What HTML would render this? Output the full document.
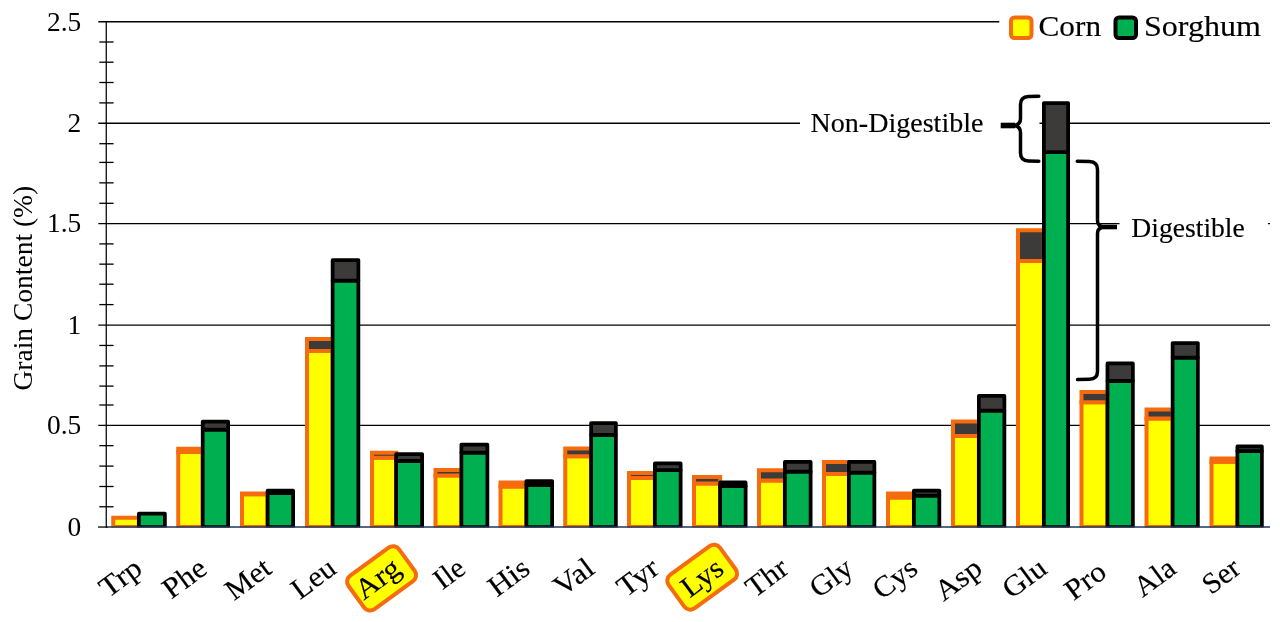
<!DOCTYPE html>
<html lang="en"><head><meta charset="utf-8"><title>Grain amino acid content: corn vs sorghum</title>
<style>html,body{margin:0;padding:0;background:#fff;}body{width:1280px;height:622px;overflow:hidden;}svg{display:block;}</style>
</head><body>
<svg width="1280" height="622" viewBox="0 0 1280 622">
<rect width="1280" height="622" fill="#fff"/>
<g stroke="#000" stroke-width="1.3" fill="none">
<line x1="98.3" y1="425.4" x2="1270" y2="425.4"/>
<line x1="98.3" y1="325.2" x2="1270" y2="325.2"/>
<line x1="98.3" y1="223.6" x2="1270" y2="223.6"/>
<line x1="98.3" y1="123.25" x2="1270" y2="123.25"/>
<line x1="98.3" y1="21.75" x2="1270" y2="21.75"/>
</g>
<rect x="999.3" y="8" width="281" height="40" fill="#fff"/>
<rect x="800" y="108" width="239.5" height="34" fill="#fff"/>
<rect x="1119.5" y="206" width="148.5" height="36" fill="#fff"/>
<g stroke="#000" stroke-width="1.3" fill="none">
<line x1="106.25" y1="21.1" x2="106.25" y2="527.6" stroke-width="1.25"/>
<line x1="99.3" y1="42.00" x2="113.6" y2="42.00"/>
<line x1="99.3" y1="62.20" x2="113.6" y2="62.20"/>
<line x1="99.3" y1="82.50" x2="113.6" y2="82.50"/>
<line x1="99.3" y1="102.90" x2="113.6" y2="102.90"/>
<line x1="99.3" y1="143.70" x2="113.6" y2="143.70"/>
<line x1="99.3" y1="162.40" x2="113.6" y2="162.40"/>
<line x1="99.3" y1="182.85" x2="113.6" y2="182.85"/>
<line x1="99.3" y1="203.30" x2="113.6" y2="203.30"/>
<line x1="99.3" y1="243.90" x2="113.6" y2="243.90"/>
<line x1="99.3" y1="264.15" x2="113.6" y2="264.15"/>
<line x1="99.3" y1="284.20" x2="113.6" y2="284.20"/>
<line x1="99.3" y1="304.60" x2="113.6" y2="304.60"/>
<line x1="99.3" y1="345.45" x2="113.6" y2="345.45"/>
<line x1="99.3" y1="365.90" x2="113.6" y2="365.90"/>
<line x1="99.3" y1="386.10" x2="113.6" y2="386.10"/>
<line x1="99.3" y1="405.00" x2="113.6" y2="405.00"/>
<line x1="99.3" y1="445.65" x2="113.6" y2="445.65"/>
<line x1="99.3" y1="466.10" x2="113.6" y2="466.10"/>
<line x1="99.3" y1="486.50" x2="113.6" y2="486.50"/>
<line x1="99.3" y1="506.75" x2="113.6" y2="506.75"/>
</g>
<clipPath id="pc"><rect x="100" y="0" width="1180" height="527.6"/></clipPath>
<g clip-path="url(#pc)">
<g stroke="#F56B0D" stroke-width="4.0" stroke-linejoin="miter"><rect x="113.25" y="517.75" width="25.62" height="9.25" fill="#FFFF00"/><rect x="113.25" y="517.75" width="25.62" height="0.00" fill="#3D3B3A"/></g>
<g stroke="#F56B0D" stroke-width="4.0" stroke-linejoin="miter"><rect x="178.25" y="452.00" width="24.47" height="75.00" fill="#FFFF00"/><rect x="178.25" y="448.75" width="24.47" height="3.25" fill="#3D3B3A"/></g>
<g stroke="#F56B0D" stroke-width="4.0" stroke-linejoin="miter"><rect x="242.00" y="494.25" width="25.62" height="32.75" fill="#FFFF00"/><rect x="242.00" y="493.50" width="25.62" height="0.75" fill="#3D3B3A"/></g>
<g stroke="#F56B0D" stroke-width="4.0" stroke-linejoin="miter"><rect x="307.00" y="351.00" width="25.62" height="176.00" fill="#FFFF00"/><rect x="307.00" y="339.00" width="25.62" height="12.00" fill="#3D3B3A"/></g>
<g stroke="#F56B0D" stroke-width="4.0" stroke-linejoin="miter"><rect x="372.00" y="457.75" width="24.12" height="69.25" fill="#FFFF00"/><rect x="372.00" y="452.75" width="24.12" height="5.00" fill="#3D3B3A"/></g>
<g stroke="#F56B0D" stroke-width="4.0" stroke-linejoin="miter"><rect x="435.50" y="475.50" width="25.88" height="51.50" fill="#FFFF00"/><rect x="435.50" y="470.00" width="25.88" height="5.50" fill="#3D3B3A"/></g>
<g stroke="#F56B0D" stroke-width="4.0" stroke-linejoin="miter"><rect x="500.50" y="486.50" width="25.88" height="40.50" fill="#FFFF00"/><rect x="500.50" y="482.50" width="25.88" height="4.00" fill="#3D3B3A"/></g>
<g stroke="#F56B0D" stroke-width="4.0" stroke-linejoin="miter"><rect x="565.25" y="456.25" width="25.88" height="70.75" fill="#FFFF00"/><rect x="565.25" y="448.50" width="25.88" height="7.75" fill="#3D3B3A"/></g>
<g stroke="#F56B0D" stroke-width="4.0" stroke-linejoin="miter"><rect x="629.00" y="478.00" width="25.88" height="49.00" fill="#FFFF00"/><rect x="629.00" y="473.00" width="25.88" height="5.00" fill="#3D3B3A"/></g>
<g stroke="#F56B0D" stroke-width="4.0" stroke-linejoin="miter"><rect x="694.00" y="483.50" width="26.12" height="43.50" fill="#FFFF00"/><rect x="694.00" y="477.00" width="26.12" height="6.50" fill="#3D3B3A"/></g>
<g stroke="#F56B0D" stroke-width="4.0" stroke-linejoin="miter"><rect x="759.00" y="480.50" width="25.88" height="46.50" fill="#FFFF00"/><rect x="759.00" y="470.25" width="25.88" height="10.25" fill="#3D3B3A"/></g>
<g stroke="#F56B0D" stroke-width="4.0" stroke-linejoin="miter"><rect x="824.00" y="474.00" width="24.88" height="53.00" fill="#FFFF00"/><rect x="824.00" y="462.00" width="24.88" height="12.00" fill="#3D3B3A"/></g>
<g stroke="#F56B0D" stroke-width="4.0" stroke-linejoin="miter"><rect x="888.00" y="497.50" width="25.88" height="29.50" fill="#FFFF00"/><rect x="888.00" y="493.50" width="25.88" height="4.00" fill="#3D3B3A"/></g>
<g stroke="#F56B0D" stroke-width="4.0" stroke-linejoin="miter"><rect x="953.00" y="436.00" width="25.88" height="91.00" fill="#FFFF00"/><rect x="953.00" y="421.50" width="25.88" height="14.50" fill="#3D3B3A"/></g>
<g stroke="#F56B0D" stroke-width="4.0" stroke-linejoin="miter"><rect x="1018.00" y="261.00" width="25.88" height="266.00" fill="#FFFF00"/><rect x="1018.00" y="230.25" width="25.88" height="30.75" fill="#3D3B3A"/></g>
<g stroke="#F56B0D" stroke-width="4.0" stroke-linejoin="miter"><rect x="1081.50" y="402.25" width="25.97" height="124.75" fill="#FFFF00"/><rect x="1081.50" y="392.00" width="25.97" height="10.25" fill="#3D3B3A"/></g>
<g stroke="#F56B0D" stroke-width="4.0" stroke-linejoin="miter"><rect x="1146.50" y="418.50" width="26.12" height="108.50" fill="#FFFF00"/><rect x="1146.50" y="409.50" width="26.12" height="9.00" fill="#3D3B3A"/></g>
<g stroke="#F56B0D" stroke-width="4.0" stroke-linejoin="miter"><rect x="1211.50" y="461.75" width="25.88" height="65.25" fill="#FFFF00"/><rect x="1211.50" y="458.50" width="25.88" height="3.25" fill="#3D3B3A"/></g>
<g stroke="#000" stroke-width="3.75" stroke-linejoin="round"><rect x="138.88" y="513.62" width="26.00" height="13.38" fill="#00B050"/><rect x="138.88" y="513.62" width="26.00" height="0.00" fill="#3D3B3A"/></g>
<g stroke="#000" stroke-width="3.75" stroke-linejoin="round"><rect x="202.72" y="429.62" width="25.40" height="97.38" fill="#00B050"/><rect x="202.72" y="421.62" width="25.40" height="8.00" fill="#3D3B3A"/></g>
<g stroke="#000" stroke-width="3.75" stroke-linejoin="round"><rect x="267.62" y="493.12" width="25.50" height="33.88" fill="#00B050"/><rect x="267.62" y="490.62" width="25.50" height="2.50" fill="#3D3B3A"/></g>
<g stroke="#000" stroke-width="3.75" stroke-linejoin="round"><rect x="332.62" y="280.62" width="25.75" height="246.38" fill="#00B050"/><rect x="332.62" y="260.12" width="25.75" height="20.50" fill="#3D3B3A"/></g>
<g stroke="#000" stroke-width="3.75" stroke-linejoin="round"><rect x="396.12" y="460.88" width="26.00" height="66.12" fill="#00B050"/><rect x="396.12" y="454.12" width="26.00" height="6.75" fill="#3D3B3A"/></g>
<g stroke="#000" stroke-width="3.75" stroke-linejoin="round"><rect x="461.38" y="452.62" width="26.00" height="74.38" fill="#00B050"/><rect x="461.38" y="444.62" width="26.00" height="8.00" fill="#3D3B3A"/></g>
<g stroke="#000" stroke-width="3.75" stroke-linejoin="round"><rect x="526.38" y="484.88" width="25.75" height="42.12" fill="#00B050"/><rect x="526.38" y="481.12" width="25.75" height="3.75" fill="#3D3B3A"/></g>
<g stroke="#000" stroke-width="3.75" stroke-linejoin="round"><rect x="591.12" y="434.88" width="24.75" height="92.12" fill="#00B050"/><rect x="591.12" y="423.12" width="24.75" height="11.75" fill="#3D3B3A"/></g>
<g stroke="#000" stroke-width="3.75" stroke-linejoin="round"><rect x="654.88" y="470.12" width="25.75" height="56.88" fill="#00B050"/><rect x="654.88" y="463.38" width="25.75" height="6.75" fill="#3D3B3A"/></g>
<g stroke="#000" stroke-width="3.75" stroke-linejoin="round"><rect x="720.12" y="486.12" width="25.50" height="40.88" fill="#00B050"/><rect x="720.12" y="482.38" width="25.50" height="3.75" fill="#3D3B3A"/></g>
<g stroke="#000" stroke-width="3.75" stroke-linejoin="round"><rect x="784.88" y="471.62" width="25.75" height="55.38" fill="#00B050"/><rect x="784.88" y="461.88" width="25.75" height="9.75" fill="#3D3B3A"/></g>
<g stroke="#000" stroke-width="3.75" stroke-linejoin="round"><rect x="848.88" y="472.62" width="25.50" height="54.38" fill="#00B050"/><rect x="848.88" y="461.88" width="25.50" height="10.75" fill="#3D3B3A"/></g>
<g stroke="#000" stroke-width="3.75" stroke-linejoin="round"><rect x="913.88" y="495.62" width="25.45" height="31.38" fill="#00B050"/><rect x="913.88" y="490.62" width="25.45" height="5.00" fill="#3D3B3A"/></g>
<g stroke="#000" stroke-width="3.75" stroke-linejoin="round"><rect x="978.88" y="410.62" width="25.50" height="116.38" fill="#00B050"/><rect x="978.88" y="395.88" width="25.50" height="14.75" fill="#3D3B3A"/></g>
<g stroke="#000" stroke-width="3.75" stroke-linejoin="round"><rect x="1043.88" y="152.12" width="24.25" height="374.88" fill="#00B050"/><rect x="1043.88" y="103.12" width="24.25" height="49.00" fill="#3D3B3A"/></g>
<g stroke="#000" stroke-width="3.75" stroke-linejoin="round"><rect x="1107.47" y="380.88" width="25.40" height="146.12" fill="#00B050"/><rect x="1107.47" y="363.38" width="25.40" height="17.50" fill="#3D3B3A"/></g>
<g stroke="#000" stroke-width="3.75" stroke-linejoin="round"><rect x="1172.62" y="357.62" width="25.25" height="169.38" fill="#00B050"/><rect x="1172.62" y="343.12" width="25.25" height="14.50" fill="#3D3B3A"/></g>
<g stroke="#000" stroke-width="3.75" stroke-linejoin="round"><rect x="1237.38" y="451.12" width="24.50" height="75.88" fill="#00B050"/><rect x="1237.38" y="446.38" width="24.50" height="4.75" fill="#3D3B3A"/></g>
</g>
<line x1="106" y1="527.05" x2="1270" y2="527.05" stroke="#1F3556" stroke-width="1.6"/>
<line x1="98" y1="527.05" x2="107.4" y2="527.05" stroke="#000" stroke-width="1.3"/>
<g font-family="&quot;Liberation Serif&quot;, serif" font-size="27.4" fill="#000" text-anchor="end">
<text x="81.3" y="535.80">0</text>
<text x="81.3" y="434.20">0.5</text>
<text x="81.3" y="334.00">1</text>
<text x="81.3" y="232.40">1.5</text>
<text x="81.3" y="132.05">2</text>
<text x="81.3" y="30.55">2.5</text>
</g>
<text font-family="&quot;Liberation Serif&quot;, serif" font-size="26.47" transform="translate(32.2 390.6) rotate(-90)" textLength="204.8" lengthAdjust="spacingAndGlyphs">Grain Content (%)</text>
<rect x="-31.25" y="-20.75" width="62.5" height="41.5" rx="7.5" ry="7.5" fill="#FFFF00" stroke="#F56B0D" stroke-width="4" transform="translate(381.6 578.4) rotate(-36)"/>
<rect x="-31.75" y="-20.75" width="63.5" height="41.5" rx="7.5" ry="7.5" fill="#FFFF00" stroke="#F56B0D" stroke-width="4" transform="translate(702.2 577.2) rotate(-36)"/>
<g font-family="&quot;Liberation Serif&quot;, serif" stroke="#000" stroke-width="0.15" font-size="29.26" fill="#000" text-anchor="end">
<text transform="translate(144.20 572.00) rotate(-36.5)" textLength="45.1" lengthAdjust="spacingAndGlyphs">Trp</text>
<text transform="translate(208.80 572.00) rotate(-36.5)" textLength="46.6" lengthAdjust="spacingAndGlyphs">Phe</text>
<text transform="translate(273.40 572.00) rotate(-36.5)" textLength="49.0" lengthAdjust="spacingAndGlyphs">Met</text>
<text transform="translate(338.00 572.00) rotate(-36.5)" textLength="47.4" lengthAdjust="spacingAndGlyphs">Leu</text>
<text transform="translate(402.60 572.00) rotate(-36.5)" textLength="48.4" lengthAdjust="spacingAndGlyphs">Arg</text>
<text transform="translate(467.20 572.00) rotate(-36.5)" textLength="31.0" lengthAdjust="spacingAndGlyphs">Ile</text>
<text transform="translate(531.80 572.00) rotate(-36.5)" textLength="43.3" lengthAdjust="spacingAndGlyphs">His</text>
<text transform="translate(596.40 572.00) rotate(-36.5)" textLength="42.4" lengthAdjust="spacingAndGlyphs">Val</text>
<text transform="translate(661.00 572.00) rotate(-36.5)" textLength="43.8" lengthAdjust="spacingAndGlyphs">Tyr</text>
<text transform="translate(725.60 572.00) rotate(-36.5)" textLength="44.5" lengthAdjust="spacingAndGlyphs">Lys</text>
<text transform="translate(790.20 572.00) rotate(-36.5)" textLength="44.5" lengthAdjust="spacingAndGlyphs">Thr</text>
<text transform="translate(854.80 572.00) rotate(-36.5)" textLength="45.1" lengthAdjust="spacingAndGlyphs">Gly</text>
<text transform="translate(919.40 572.00) rotate(-36.5)" textLength="47.3" lengthAdjust="spacingAndGlyphs">Cys</text>
<text transform="translate(984.00 572.00) rotate(-36.5)" textLength="50.5" lengthAdjust="spacingAndGlyphs">Asp</text>
<text transform="translate(1048.60 572.00) rotate(-36.5)" textLength="46.4" lengthAdjust="spacingAndGlyphs">Glu</text>
<text transform="translate(1108.40 575.60) rotate(-36.5)" textLength="43.3" lengthAdjust="spacingAndGlyphs">Pro</text>
<text transform="translate(1177.80 572.00) rotate(-36.5)" textLength="43.9" lengthAdjust="spacingAndGlyphs">Ala</text>
<text transform="translate(1242.40 572.00) rotate(-36.5)" textLength="39.2" lengthAdjust="spacingAndGlyphs">Ser</text>
</g>
<rect x="1011" y="17.5" width="20.5" height="20.5" rx="3.5" fill="#FFFF00" stroke="#F56B0D" stroke-width="4"/>
<rect x="1115.5" y="17.5" width="20.5" height="20.5" rx="3.5" fill="#00B050" stroke="#000" stroke-width="4"/>
<text font-family="&quot;Liberation Serif&quot;, serif" stroke="#000" stroke-width="0.15" font-size="29.26" x="1038.5" y="36.3" textLength="62.5" lengthAdjust="spacingAndGlyphs">Corn</text>
<text font-family="&quot;Liberation Serif&quot;, serif" stroke="#000" stroke-width="0.15" font-size="29.26" x="1144" y="36.3" textLength="117.0" lengthAdjust="spacingAndGlyphs">Sorghum</text>
<text font-family="&quot;Liberation Serif&quot;, serif" stroke="#000" stroke-width="0.15" font-size="26.47" x="810.5" y="132" textLength="173" lengthAdjust="spacingAndGlyphs">Non-Digestible</text>
<text font-family="&quot;Liberation Serif&quot;, serif" stroke="#000" stroke-width="0.15" font-size="26.47" x="1131.3" y="237.4" textLength="113.5" lengthAdjust="spacingAndGlyphs">Digestible</text>
<g fill="none" stroke="#000" stroke-width="3.5" stroke-linecap="round" stroke-linejoin="round">
<path d="M1038.8 96.3 L1028.5 96.6 Q1020.5 97 1020.5 104.5 L1020.5 118.5 Q1020.5 125.5 1012 125.5 Q1020.5 125.5 1020.5 132.5 L1020.5 153 Q1020.5 160.6 1028.5 161 L1038.8 161.3"/>
<path d="M1000.7 125.5 L1015 125.5" stroke-width="5.6" stroke-linecap="butt"/>
<path d="M1077.3 161.3 L1089.5 161.6 Q1097.5 162 1097.5 169.5 L1097.5 220.5 Q1097.5 227 1105 227 Q1097.5 227 1097.5 233.5 L1097.5 371.5 Q1097.5 379 1089.5 379.3 L1077.6 379.6"/>
<path d="M1101 227 L1117 227" stroke-width="4.6" stroke-linecap="butt"/>
</g>
</svg>
</body></html>
